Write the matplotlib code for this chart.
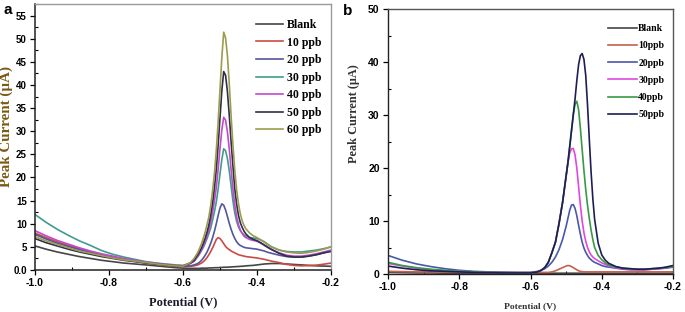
import matplotlib
matplotlib.use("Agg")
import matplotlib.pyplot as plt
from matplotlib.font_manager import FontProperties
from matplotlib.ticker import MultipleLocator, FixedLocator, FixedFormatter

plt.rcParams['axes.unicode_minus'] = False

# ---------------- panel a data (potential in V, current in uA) ----------------
pot_a = [-1.00, -0.97, -0.94, -0.91, -0.88, -0.85, -0.82, -0.79, -0.76, -0.73,
         -0.70, -0.66, -0.62, -0.60, -0.58, -0.57, -0.56, -0.555, -0.55, -0.545,
         -0.54, -0.535, -0.53, -0.525, -0.52, -0.515, -0.51, -0.505, -0.50, -0.495,
         -0.49, -0.485, -0.48, -0.475, -0.47, -0.465, -0.46, -0.455, -0.45, -0.445,
         -0.44, -0.435, -0.43, -0.42, -0.41, -0.40, -0.39, -0.38, -0.37, -0.36,
         -0.34, -0.32, -0.30, -0.28, -0.26, -0.24, -0.22, -0.20]

blank_a = [5.2, 4.5, 3.9, 3.4, 2.9, 2.5, 2.1, 1.8, 1.5, 1.3,
           1.1, 0.8, 0.5, 0.4, 0.35, 0.35, 0.35, 0.35, 0.4, 0.4,
           0.4, 0.4, 0.45, 0.45, 0.45, 0.5, 0.5, 0.5, 0.55, 0.55,
           0.6, 0.6, 0.6, 0.65, 0.65, 0.7, 0.7, 0.75, 0.75, 0.8,
           0.8, 0.85, 0.9, 0.95, 1.0, 1.1, 1.2, 1.3, 1.35, 1.4,
           1.4, 1.3, 1.2, 1.1, 1.0, 0.9, 0.85, 0.8]
ppb10_a = [8.0, 7.0, 6.1, 5.3, 4.6, 3.9, 3.3, 2.8, 2.3, 1.9,
           1.5, 1.1, 0.8, 0.7, 0.8, 0.9, 1.1, 1.3, 1.5, 1.8,
           2.2, 2.7, 3.3, 4.0, 4.8, 5.7, 6.6, 7.0, 6.8, 6.3,
           5.7, 5.1, 4.7, 4.4, 4.1, 3.9, 3.7, 3.5, 3.3, 3.2,
           3.1, 3.0, 2.9, 2.8, 2.7, 2.6, 2.45, 2.3, 2.1, 1.9,
           1.6, 1.2, 1.0, 0.9, 0.95, 1.05, 1.25, 1.5]
ppb20_a = [7.7, 6.7, 5.8, 5.1, 4.4, 3.8, 3.2, 2.7, 2.3, 1.9,
           1.6, 1.2, 0.9, 0.8, 0.9, 1.1, 1.4, 1.7, 2.1, 2.6,
           3.2, 3.9, 4.8, 5.8, 7.0, 8.4, 10.0, 11.8, 13.4, 14.3,
           14.0, 13.0, 11.6, 10.1, 8.8, 7.7, 6.8, 6.1, 5.6, 5.3,
           5.1, 4.9, 4.8, 4.7, 4.6, 4.5, 4.3, 4.1, 3.8, 3.6,
           3.2, 2.9, 2.8, 2.8, 3.0, 3.3, 3.7, 4.2]
ppb30_a = [12.0, 10.3, 8.8, 7.5, 6.3, 5.3, 4.2, 3.4, 2.8, 2.3,
           1.8, 1.4, 1.1, 1.0, 1.5, 1.9, 2.9, 3.5, 4.2, 4.9,
           5.8, 6.8, 7.9, 9.1, 10.8, 12.6, 14.7, 17.5, 20.8, 23.9,
           26.2, 25.8, 24.1, 21.5, 18.2, 14.9, 12.3, 10.5, 9.3, 8.5,
           8.0, 7.6, 7.3, 7.05, 6.9, 6.8, 6.5, 6.1, 5.5, 5.0,
           4.3, 4.0, 3.9, 3.9, 4.1, 4.3, 4.6, 5.0]
ppb40_a = [8.5, 7.4, 6.4, 5.6, 4.8, 4.1, 3.5, 3.0, 2.5, 2.1,
           1.7, 1.3, 1.0, 0.9, 1.4, 1.9, 3.0, 3.6, 4.4, 5.2,
           6.2, 7.3, 8.7, 10.4, 12.5, 15.0, 17.8, 21.8, 26.3, 30.3,
           33.0, 32.4, 29.9, 26.2, 21.7, 17.5, 14.0, 11.5, 9.8, 8.6,
           7.9, 7.3, 7.0, 6.6, 6.4, 6.2, 5.8, 5.3, 4.8, 4.4,
           3.7, 3.2, 3.0, 3.0, 3.2, 3.5, 3.9, 4.3]
ppb50_a = [6.8, 5.9, 5.2, 4.5, 3.9, 3.4, 2.9, 2.5, 2.1, 1.8,
           1.5, 1.2, 0.9, 0.8, 1.5, 2.1, 3.3, 4.0, 4.8, 5.8,
           6.9, 8.2, 9.8, 11.9, 14.5, 17.8, 21.8, 27.0, 32.9, 38.8,
           42.9, 42.1, 38.6, 33.5, 27.7, 22.4, 17.5, 14.2, 11.8, 10.2,
           9.2, 8.4, 7.8, 7.0, 6.6, 6.35, 5.9, 5.4, 4.9, 4.4,
           3.6, 3.0, 2.8, 2.8, 3.0, 3.3, 3.7, 4.0]
ppb60_a = [7.2, 6.3, 5.5, 4.8, 4.1, 3.6, 3.1, 2.6, 2.2, 1.9,
           1.6, 1.2, 0.9, 0.8, 1.6, 2.5, 3.8, 4.7, 5.7, 6.9,
           8.2, 9.8, 11.5, 14.0, 17.2, 20.9, 25.9, 32.0, 39.0, 46.0,
           51.4, 50.2, 46.4, 40.3, 33.3, 27.0, 21.5, 17.3, 14.3, 12.1,
           10.6, 9.6, 8.9, 8.0, 7.4, 7.0, 6.5, 6.0, 5.4, 4.9,
           4.3, 3.9, 3.7, 3.6, 3.8, 4.1, 4.5, 5.0]

labels_a = ["Blank", "10 ppb", "20 ppb", "30 ppb", "40 ppb", "50 ppb", "60 ppb"]
series_a = [blank_a, ppb10_a, ppb20_a, ppb30_a, ppb40_a, ppb50_a, ppb60_a]
colors_a = ['#454545', '#cc4a44', '#55559a', '#3f9c8f', '#c449cc', '#2f2f4c', '#9c9c4e']

# ---------------- panel b data ----------------
pot_b = [-1.00, -0.96, -0.92, -0.88, -0.84, -0.80, -0.76, -0.72, -0.68, -0.64,
         -0.60, -0.58, -0.57, -0.56, -0.55, -0.54, -0.53, -0.52, -0.51, -0.50,
         -0.495, -0.49, -0.485, -0.48, -0.475, -0.47, -0.465, -0.46, -0.455, -0.45,
         -0.445, -0.44, -0.435, -0.43, -0.425, -0.42, -0.41, -0.40, -0.39, -0.38,
         -0.36, -0.34, -0.32, -0.30, -0.28, -0.26, -0.24, -0.22, -0.20]

blank_b = [0.3, 0.25, 0.2, 0.2, 0.15, 0.15, 0.15, 0.15, 0.15, 0.15,
           0.15, 0.15, 0.15, 0.15, 0.15, 0.15, 0.15, 0.15, 0.15, 0.15,
           0.15, 0.15, 0.15, 0.15, 0.15, 0.15, 0.15, 0.15, 0.15, 0.15,
           0.15, 0.15, 0.15, 0.15, 0.15, 0.15, 0.15, 0.15, 0.15, 0.15,
           0.15, 0.15, 0.15, 0.15, 0.15, 0.15, 0.15, 0.15, 0.15]
ppb10_b = [0.5, 0.45, 0.4, 0.4, 0.35, 0.35, 0.3, 0.3, 0.3, 0.3,
           0.3, 0.3, 0.3, 0.3, 0.3, 0.4, 0.6, 0.9, 1.2, 1.5,
           1.6, 1.55, 1.4, 1.2, 1.0, 0.8, 0.6, 0.5, 0.45, 0.4,
           0.4, 0.4, 0.4, 0.4, 0.4, 0.4, 0.4, 0.4, 0.4, 0.4,
           0.4, 0.4, 0.4, 0.4, 0.4, 0.4, 0.4, 0.4, 0.4]
ppb20_b = [3.5, 2.6, 1.9, 1.4, 1.0, 0.7, 0.5, 0.4, 0.35, 0.3,
           0.3, 0.5, 0.7, 1.0, 1.5, 2.2, 3.2, 4.6, 6.5, 9.0,
           10.5, 12.0, 13.0, 13.1, 12.4, 11.0, 9.2, 7.5, 6.0, 4.9,
           4.1, 3.5, 3.0, 2.7, 2.4, 2.2, 1.9, 1.6, 1.4, 1.3,
           1.1, 0.9, 0.8, 0.8, 0.8, 0.9, 1.0, 1.1, 1.3]
ppb30_b = [2.0, 1.5, 1.1, 0.8, 0.6, 0.5, 0.4, 0.3, 0.25, 0.2,
           0.2, 0.4, 0.7, 1.2, 2.2, 4.0, 6.0, 9.5, 13.5, 18.5,
           21.0, 22.8, 23.6, 23.7, 22.5, 20.0, 16.5, 13.0, 10.0, 7.8,
           6.2, 5.0, 4.2, 3.6, 3.2, 2.9, 2.5, 2.1, 1.8, 1.5,
           1.2, 1.0, 0.9, 0.8, 0.8, 0.9, 1.0, 1.2, 1.4]
ppb40_b = [2.2, 1.6, 1.2, 0.9, 0.7, 0.5, 0.4, 0.3, 0.25, 0.2,
           0.2, 0.4, 0.7, 1.2, 2.2, 4.0, 6.0, 9.5, 13.5, 18.5,
           21.0, 24.0, 27.0, 30.0, 32.0, 32.6, 31.0, 27.5, 23.5, 19.5,
           16.0, 13.0, 10.5, 8.3, 6.5, 5.0, 3.5, 2.7, 2.1, 1.7,
           1.3, 1.1, 1.0, 0.9, 0.9, 1.0, 1.1, 1.2, 1.4]
ppb50_b = [1.5, 1.1, 0.8, 0.6, 0.5, 0.4, 0.3, 0.25, 0.2, 0.2,
           0.2, 0.4, 0.7, 1.2, 2.2, 4.0, 6.0, 9.5, 13.5, 18.5,
           21.0, 24.0, 27.0, 30.0, 33.0, 36.5, 39.5, 41.2, 41.6, 40.5,
           37.5, 32.0, 25.5, 19.3, 14.2, 10.3, 5.8, 3.6, 2.6, 2.0,
           1.4, 1.1, 1.0, 0.9, 0.9, 1.0, 1.1, 1.3, 1.6]

labels_b = ["Blank", "10ppb", "20ppb", "30ppb", "40ppb", "50ppb"]
series_b = [blank_b, ppb10_b, ppb20_b, ppb30_b, ppb40_b, ppb50_b]
colors_b = ['#454545', '#c4604e', '#4a58aa', '#e048e0', '#389a44', '#1e1e56']

serif_b = 'Liberation Serif'
sans_b = 'Liberation Sans'

fig = plt.figure(figsize=(6.85, 3.12), dpi=100)
W, H = 685.0, 312.0

# ---------------- panel a ----------------
axa = fig.add_axes([35 / W, 42 / H, 296 / W, 266 / H])
for y, c, lab in zip(series_a, colors_a, labels_a):
    axa.plot(pot_a, y, color=c, lw=1.2, label=lab)
axa.set_xlim(-1.0, -0.2)
axa.set_ylim(0, 57.5)
axa.xaxis.set_major_locator(MultipleLocator(0.2))
axa.xaxis.set_minor_locator(MultipleLocator(0.1))
yt = list(range(0, 60, 5))
axa.yaxis.set_major_locator(FixedLocator(yt))
axa.yaxis.set_major_formatter(FixedFormatter(["0.0"] + [str(v) for v in yt[1:]]))
axa.yaxis.set_minor_locator(MultipleLocator(2.5))
axa.tick_params(which='major', direction='out', length=3.5, width=0.9, pad=2.5)
axa.tick_params(which='minor', direction='in', length=2, width=0.8)
for lab in axa.get_xticklabels() + axa.get_yticklabels():
    lab.set_family(sans_b)
    lab.set_fontweight('bold')
for lab in axa.get_xticklabels():
    lab.set_fontsize(7.5)
for lab in axa.get_yticklabels():
    lab.set_fontsize(7)
for s in ['left', 'bottom']:
    axa.spines[s].set_color('#222222')
    axa.spines[s].set_linewidth(1.1)
for s in ['top', 'right']:
    axa.spines[s].set_color('#9a9a9a')
    axa.spines[s].set_linewidth(1.0)
axa.set_ylabel("Peak Current (\u00b5A)", family=serif_b, weight='bold',
               fontsize=10.8, color='#7a5a10')
axa.yaxis.set_label_coords(-0.076, 0.54)
axa.set_xlabel("Potential (V)", family=serif_b, weight='bold', fontsize=9,
               color='#1a1a2a')
axa.xaxis.set_label_coords(0.5, -0.1)
axa.legend(loc='upper left', bbox_to_anchor=(256 / W, (H - 19) / H),
           bbox_transform=fig.transFigure, frameon=False, borderpad=0,
           borderaxespad=0, handlelength=2.3, handletextpad=0.3,
           labelspacing=0.47,
           prop=FontProperties(family=serif_b, weight='bold', size=8.5))
fig.text(8 / W, 1 - 10 / H, "a", family=sans_b, weight='bold', fontsize=11,
         ha='center', va='center')

# ---------------- panel b ----------------
axb = fig.add_axes([388 / W, 38 / H, 285 / W, 265 / H])
for y, c, lab in zip(series_b, colors_b, labels_b):
    axb.plot(pot_b, y, color=c, lw=1.2, label=lab)
axb.set_xlim(-1.0, -0.2)
axb.set_ylim(0, 50)
axb.xaxis.set_major_locator(MultipleLocator(0.2))
axb.xaxis.set_minor_locator(MultipleLocator(0.1))
axb.yaxis.set_major_locator(MultipleLocator(10))
axb.yaxis.set_minor_locator(MultipleLocator(5))
axb.tick_params(which='major', direction='out', length=3.5, width=0.9, pad=2.5)
axb.tick_params(which='minor', direction='in', length=2, width=0.8)
for lab in axb.get_xticklabels() + axb.get_yticklabels():
    lab.set_family(sans_b)
    lab.set_fontweight('bold')
    lab.set_fontsize(7.5)
for s in axb.spines.values():
    s.set_color('#555555')
    s.set_linewidth(1.0)
axb.spines['left'].set_color('#222222')
axb.spines['bottom'].set_color('#222222')
axb.set_ylabel("Peak Current (\u00b5A)", family=serif_b, weight='bold',
               fontsize=8.8, color='#333333')
axb.yaxis.set_label_coords(-0.1, 0.607)
axb.set_xlabel("Potential (V)", family=serif_b, weight='bold', fontsize=6.8,
               color='#333333')
axb.xaxis.set_label_coords(0.5, -0.105)
axb.legend(loc='upper left', bbox_to_anchor=(608 / W, (H - 24) / H),
           bbox_transform=fig.transFigure, frameon=False, borderpad=0,
           borderaxespad=0, handlelength=3.0, handletextpad=0.1,
           labelspacing=0.85,
           prop=FontProperties(family=serif_b, weight='bold', size=7))
fig.text(348 / W, 1 - 11 / H, "b", family=sans_b, weight='bold', fontsize=11,
         ha='center', va='center')

fig.savefig("out.png", dpi=100)
